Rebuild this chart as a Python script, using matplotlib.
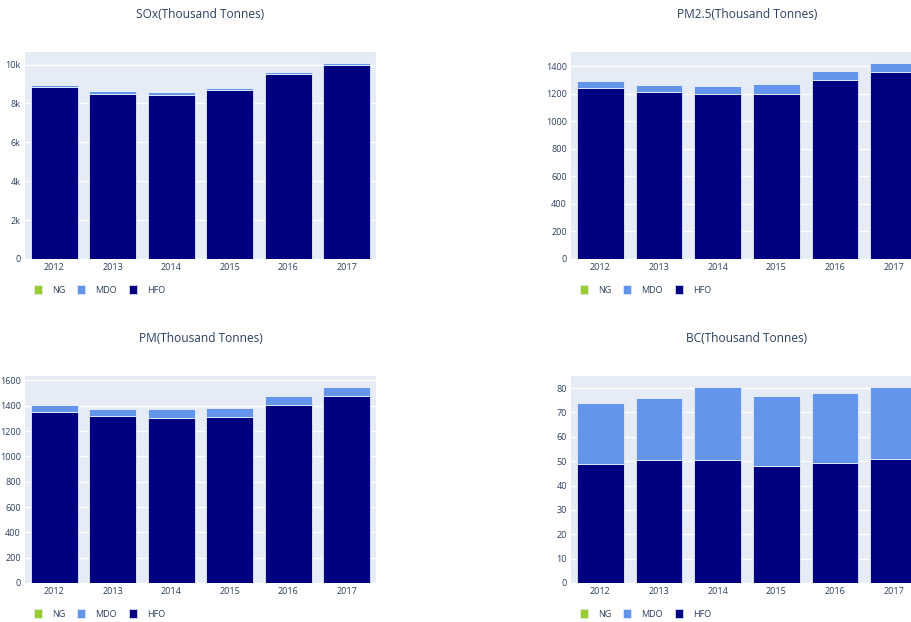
import numpy as np
import matplotlib
matplotlib.use("Agg")
import matplotlib.pyplot as plt
from matplotlib.patches import Patch
from matplotlib.ticker import FuncFormatter

years = ["2012", "2013", "2014", "2015", "2016", "2017"]
fuels = ["NG", "MDO", "HFO"]

# values (thousand tonnes)
sox_hfo = [8820, 8460, 8410, 8670, 9520, 9970]
sox_mdo = [150, 160, 170, 120, 100, 120]
sox_ng = [0, 0, 0, 0, 0, 0]

pm25_hfo = [1241, 1210, 1195, 1200, 1299, 1357]
pm25_mdo = [51, 53, 63, 72, 62, 67]
pm25_ng = [0, 0, 0, 0, 0, 0]

pm_hfo = [1353, 1319, 1306, 1314, 1408, 1479]
pm_mdo = [53, 58, 65, 71, 71, 71]
pm_ng = [0, 0, 0, 0, 0, 0]

bc_hfo = [48.9, 50.6, 50.6, 47.8, 49.1, 50.9]
bc_mdo = [25.0, 25.3, 29.7, 29.1, 28.9, 29.6]
bc_ng = [0, 0, 0, 0, 0, 0]

titles = ["SOx(Thousand Tonnes)", "PM2.5(Thousand Tonnes)",
          "PM(Thousand Tonnes)", "BC(Thousand Tonnes)"]
panels = [(sox_ng, sox_mdo, sox_hfo), (pm25_ng, pm25_mdo, pm25_hfo),
          (pm_ng, pm_mdo, pm_hfo), (bc_ng, bc_mdo, bc_hfo)]

colors = {"NG": "#9acd32", "MDO": "#6495ed", "HFO": "#000080"}
txt = "#2a3f5f"
bg = "#e5ecf6"

plt.rcParams["font.family"] = ["Open Sans", "DejaVu Sans"]

W, H = 911, 622
fig = plt.figure(figsize=(W / 100, H / 100), dpi=100)

# axes boxes in pixels: left, top, width, height
boxes = [(25, 52, 351, 207), (571, 52, 352, 207),
         (25, 376, 351, 207), (571, 376, 352, 207)]


def kfmt(v, pos):
    if v == 0:
        return "0"
    return "%gk" % (v / 1000)


for i, (box, title, (ng, mdo, hfo)) in enumerate(zip(boxes, titles, panels)):
    l, t, w, h = box
    ax = fig.add_axes([l / W, 1 - (t + h) / H, w / W, h / H])
    ax.set_facecolor(bg)
    x = np.arange(len(years))
    hfo = np.array(hfo, dtype=float)
    mdo = np.array(mdo, dtype=float)
    ng = np.array(ng, dtype=float)
    kw = dict(width=0.8, edgecolor=bg, linewidth=0.6, zorder=3)
    ax.bar(x, hfo, color=colors["HFO"], **kw)
    ax.bar(x, mdo, bottom=hfo, color=colors["MDO"], **kw)
    ax.bar(x, ng, bottom=hfo + mdo, color=colors["NG"], **kw)

    tot = (hfo + mdo + ng).max()
    ax.set_ylim(0, tot * 1.055)
    ax.set_xlim(-0.5, len(years) - 0.5)
    ax.set_xticks(x)
    ax.set_xticklabels(years)
    if i == 0:
        ax.set_yticks([0, 2000, 4000, 6000, 8000, 10000])
        ax.yaxis.set_major_formatter(FuncFormatter(kfmt))
    elif i == 1:
        ax.set_yticks(np.arange(0, 1401, 200))
    elif i == 2:
        ax.set_yticks(np.arange(0, 1601, 200))
    else:
        ax.set_yticks(np.arange(0, 81, 10))
    ax.grid(axis="y", color="white", linewidth=1, zorder=0)
    ax.set_axisbelow(True)
    for s in ax.spines.values():
        s.set_visible(False)
    ax.tick_params(length=0, labelsize=6.5, colors=txt, pad=3)

    fig.text((l + w / 2) / W, 1 - (t - 37) / H, title, ha="center",
             va="center", fontsize=8.6, color=txt)

    handles = [Patch(facecolor=colors[f], edgecolor=bg, linewidth=0.5) for f in fuels]
    ax.legend(handles, fuels, loc="center left",
              bbox_to_anchor=(9 / w, -31 / h), ncol=3, frameon=False,
              borderpad=0, borderaxespad=0,
              handlelength=0.85, handleheight=1.1, handletextpad=1.15,
              columnspacing=1.35, fontsize=6.5, labelcolor=txt)

fig.savefig("out.png", dpi=100, facecolor="white")
